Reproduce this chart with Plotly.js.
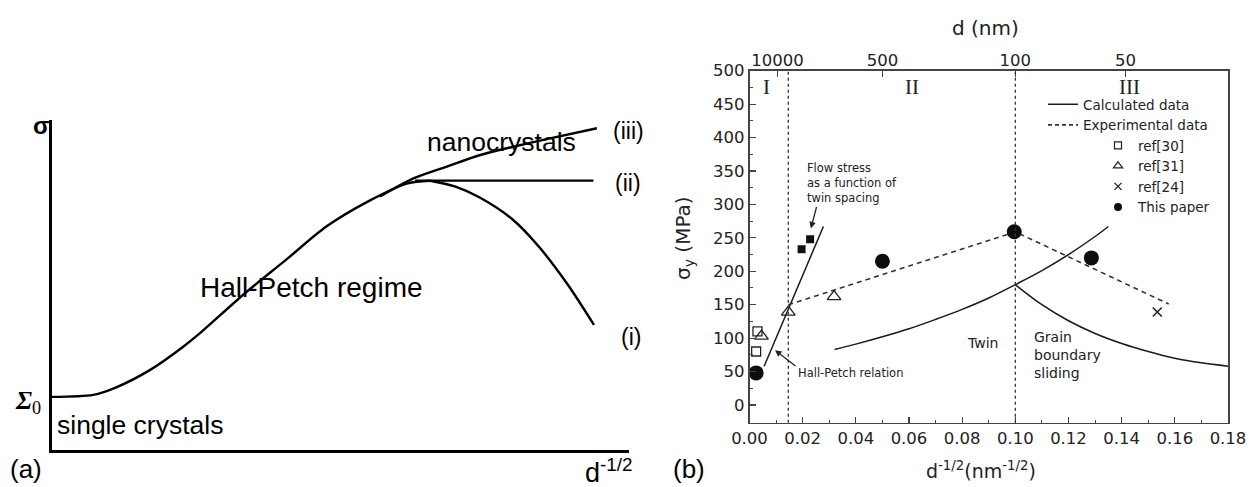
<!DOCTYPE html>
<html>
<head>
<meta charset="utf-8">
<script src="https://cdn.plot.ly/plotly-3.0.1.min.js"></script>
<style>
  html, body { margin: 0; padding: 0; background: #fff; }
  #chart { width: 1260px; height: 487px; }
</style>
</head>
<body>
<div id="chart"></div>
<script>
// ---------- (a) schematic: strength vs inverse square root of grain size ----------
const schemeX = [0, 0.072, 0.112, 0.17, 0.228, 0.257, 0.335, 0.406, 0.476, 0.547, 0.617, 0.656];
const schemeY = [0.161, 0.167, 0.19, 0.242, 0.313, 0.354, 0.475, 0.576, 0.677, 0.752, 0.808, 0.816];
const branchIX = [0.656, 0.70, 0.742, 0.80, 0.845, 0.895, 0.940];
const branchIY = [0.816, 0.798, 0.765, 0.697, 0.615, 0.5, 0.379];
const branchIIX = [0.63, 0.939];
const branchIIY = [0.816, 0.816];
const branchIIIX = [0.569, 0.627, 0.685, 0.743, 0.800, 0.858, 0.945];
const branchIIIY = [0.768, 0.823, 0.859, 0.894, 0.919, 0.942, 0.975];

// ---------- (b) yield stress of copper vs d^-1/2 ----------
// calculated curves
const hallPetchX = [0.0055, 0.0278];
const hallPetchY = [58, 267];
const twinX = [0.032, 0.04, 0.05, 0.06, 0.07, 0.08, 0.09, 0.10, 0.11, 0.12, 0.13, 0.135];
const twinY = [83, 91, 102, 114, 128, 143, 160, 180, 201, 225, 252, 267];
const gbsX = [0.10, 0.11, 0.12, 0.13, 0.14, 0.15, 0.16, 0.17, 0.18];
const gbsY = [180, 150, 126, 107, 92, 80, 70, 63, 58];
// experimental trend
const expX = [0.0146, 0.10, 0.1577];
const expY = [150, 259, 151];
// measured points
const ref30X = [0.0025, 0.003];
const ref30Y = [80, 110];
const ref31X = [0.0045, 0.0146, 0.0318];
const ref31Y = [103, 139, 162];
const ref24X = [0.1534];
const ref24Y = [139];
const paperX = [0.0025, 0.05, 0.0996, 0.1286];
const paperY = [48, 215, 259, 220];
const twinSpacingX = [0.0196, 0.0228];
const twinSpacingY = [233, 248];
// regime boundaries and top axis (grain size d in nm)
const regimeBounds = [0.0146, 0.10];
const topTickPos = [0.0105, 0.05, 0.10, 0.1414];
const topTickLabels = ['10000', '500', '100', '50'];

const SANS = 'Liberation Sans, Arial, sans-serif';
const DV = 'DejaVu Sans, Verdana, sans-serif';
const SERIF = 'Liberation Serif, Times New Roman, serif';
const W = 1260, H = 487;
const PX = x => x / W;
const PY = y => 1 - y / H;

const ink = '#1a1a1a';
const lineA = { color: '#000', width: 2.4, shape: 'spline', smoothing: 0.8 };

const traces = [
  // schematic (a)
  { x: schemeX, y: schemeY, xaxis: 'x2', yaxis: 'y2', mode: 'lines', line: lineA, showlegend: false, hoverinfo: 'skip' },
  { x: branchIX, y: branchIY, xaxis: 'x2', yaxis: 'y2', mode: 'lines', line: lineA, showlegend: false, hoverinfo: 'skip' },
  { x: branchIIX, y: branchIIY, xaxis: 'x2', yaxis: 'y2', mode: 'lines', line: { color: '#000', width: 2.2 }, showlegend: false, hoverinfo: 'skip' },
  { x: branchIIIX, y: branchIIIY, xaxis: 'x2', yaxis: 'y2', mode: 'lines', line: lineA, showlegend: false, hoverinfo: 'skip' },

  // (b) calculated curves
  { x: hallPetchX, y: hallPetchY, mode: 'lines', line: { color: ink, width: 1.5 }, showlegend: false },
  { x: twinX, y: twinY, mode: 'lines', line: { color: ink, width: 1.5, shape: 'spline' }, showlegend: false },
  { x: gbsX, y: gbsY, mode: 'lines', line: { color: ink, width: 1.5, shape: 'spline' }, showlegend: false },
  // (b) experimental trend
  { x: expX, y: expY, mode: 'lines', line: { color: '#333', width: 1.6, dash: '5px,4px' }, showlegend: false },
  // (b) data points
  { x: ref30X, y: ref30Y, mode: 'markers', showlegend: false,
    marker: { symbol: 'square-open', size: 9, color: '#222', line: { width: 1.3, color: '#222' } } },
  { x: ref31X, y: ref31Y, mode: 'markers', showlegend: false,
    marker: { symbol: 'triangle-up-open', size: 12, color: '#222', line: { width: 1.3, color: '#222' } } },
  { x: ref24X, y: ref24Y, mode: 'markers', showlegend: false,
    marker: { symbol: 'x-thin-open', size: 9, color: '#222', line: { width: 1.6, color: '#222' } } },
  { x: twinSpacingX, y: twinSpacingY, mode: 'markers', showlegend: false,
    marker: { symbol: 'square', size: 8, color: '#111' } },
  { x: paperX, y: paperY, mode: 'markers', showlegend: false,
    marker: { symbol: 'circle', size: 15, color: '#0d0d0d' } },

  // legend entries
  { x: [null], y: [null], mode: 'lines', name: 'Calculated data', legend: 'legend',
    line: { color: ink, width: 1.5 } },
  { x: [null], y: [null], mode: 'lines', name: 'Experimental data', legend: 'legend',
    line: { color: '#333', width: 1.6, dash: '4px,3px' } },
  { x: [null], y: [null], mode: 'markers', name: 'ref[30]', legend: 'legend2',
    marker: { symbol: 'square-open', size: 7, color: '#222', line: { width: 1.2, color: '#222' } } },
  { x: [null], y: [null], mode: 'markers', name: 'ref[31]', legend: 'legend2',
    marker: { symbol: 'triangle-up-open', size: 8, color: '#222', line: { width: 1.2, color: '#222' } } },
  { x: [null], y: [null], mode: 'markers', name: 'ref[24]', legend: 'legend2',
    marker: { symbol: 'x-thin-open', size: 7, color: '#222', line: { width: 1.4, color: '#222' } } },
  { x: [null], y: [null], mode: 'markers', name: 'This paper', legend: 'legend2',
    marker: { symbol: 'circle', size: 8, color: '#0d0d0d' } }
];

// text placed by its pixel centre (or left edge) on the page
const pageText = (x, y, text, size, extra) => Object.assign({
  xref: 'paper', yref: 'paper', x: PX(x), y: PY(y), text: text, showarrow: false,
  xanchor: 'center', yanchor: 'middle',
  font: { family: SANS, size: size, color: '#000' }
}, extra || {});

const annotations = [
  // panel (a)
  pageText(41, 126, '<b>σ</b>', 24),
  pageText(28, 402, '<b><i>Σ</i></b><sub>0</sub>', 26, { font: { family: SERIF, size: 26, color: '#000' } }),
  pageText(55, 425, 'single crystals', 26.5, { xanchor: 'left' }),
  pageText(198, 287, 'Hall-Petch regime', 28, { xanchor: 'left' }),
  pageText(425, 142, 'nanocrystals', 26.5, { xanchor: 'left' }),
  pageText(611, 131, '(iii)', 23, { xanchor: 'left' }),
  pageText(613, 183, '(ii)', 23, { xanchor: 'left' }),
  pageText(619, 337, '(i)', 23, { xanchor: 'left' }),
  pageText(26, 469, '(a)', 26),
  pageText(583, 471, 'd<sup>-1/2</sup>', 27, { xanchor: 'left' }),
  pageText(689, 469, '(b)', 26),

  // panel (b) titles
  pageText(684, 238, 'σ<sub>y</sub> (MPa)', 20, { textangle: -90, font: { family: DV, size: 20, color: '#222' } }),
  pageText(981, 470, 'd<sup>-1/2</sup>(nm<sup>-1/2</sup>)', 19, { font: { family: DV, size: 19, color: '#222' } }),
  pageText(985, 28, 'd (nm)', 20, { font: { family: DV, size: 20, color: '#222' } }),

  // regime labels
  { xref: 'x', yref: 'y', x: 0.0065, y: 476, text: 'I', showarrow: false, font: { family: SERIF, size: 21, color: '#222' } },
  { xref: 'x', yref: 'y', x: 0.061, y: 476, text: 'II', showarrow: false, font: { family: SERIF, size: 21, color: '#222' } },
  { xref: 'x', yref: 'y', x: 0.1428, y: 476, text: 'III', showarrow: false, font: { family: SERIF, size: 21, color: '#222' } },

  // mechanism notes
  { xref: 'x', yref: 'y', x: 0.0208, y: 368, xanchor: 'left', yanchor: 'top', align: 'left',
    text: 'Flow stress<br>as a function of<br>twin spacing', showarrow: false,
    font: { family: DV, size: 11.5, color: '#222' } },
  { xref: 'x', yref: 'y', x: 0.0231, y: 264, ax: 6, ay: -23, text: '', showarrow: true,
    arrowhead: 2, arrowsize: 1, arrowwidth: 1.3, arrowcolor: '#222' },
  { xref: 'x', yref: 'y', x: 0.0175, y: 48, xanchor: 'left', text: 'Hall-Petch relation', showarrow: false,
    font: { family: DV, size: 11.5, color: '#222' } },
  { xref: 'x', yref: 'y', x: 0.0096, y: 82, ax: 22, ay: 17, text: '', showarrow: true,
    arrowhead: 2, arrowsize: 1, arrowwidth: 1.3, arrowcolor: '#222' },
  { xref: 'x', yref: 'y', x: 0.0877, y: 92, text: 'Twin', showarrow: false,
    font: { family: DV, size: 14, color: '#222' } },
  { xref: 'x', yref: 'y', x: 0.1063, y: 117, xanchor: 'left', yanchor: 'top', align: 'left',
    text: 'Grain<br>boundary<br>sliding', showarrow: false, font: { family: DV, size: 14, color: '#222' } }
];

const shapes = regimeBounds.map(b => ({
  type: 'line', xref: 'x', yref: 'y domain', x0: b, x1: b, y0: 0, y1: 1,
  line: { color: '#333', width: 1.3, dash: 'dot' }
}));

const tickFontB = { family: DV, size: 16.5, color: '#222' };
const plainA = {
  range: [0, 1], showline: true, linecolor: '#000', linewidth: 3, showticklabels: false,
  ticks: '', showgrid: false, zeroline: false, fixedrange: true
};

const layout = {
  width: W, height: H,
  margin: { l: 0, r: 0, t: 0, b: 0 },
  paper_bgcolor: '#fff', plot_bgcolor: 'rgba(0,0,0,0)',
  showlegend: true,
  xaxis: {
    domain: [PX(749.5), PX(1228)], range: [0, 0.18], anchor: 'y',
    tick0: 0, dtick: 0.02, tickformat: '.2f',
    ticks: 'inside', ticklen: 6, tickwidth: 1.2, tickcolor: '#444',
    minor: { dtick: 0.01, ticks: 'inside', ticklen: 3, tickwidth: 1, tickcolor: '#444' },
    showline: true, linecolor: '#444', linewidth: 1.6, mirror: true,
    showgrid: false, zeroline: false, tickfont: tickFontB
  },
  yaxis: {
    domain: [PY(422.7), PY(70.7)], range: [-26.5, 500], anchor: 'x',
    tick0: 0, dtick: 50,
    ticks: 'inside', ticklen: 6, tickwidth: 1.2, tickcolor: '#444',
    minor: { dtick: 25, ticks: 'inside', ticklen: 3, tickwidth: 1, tickcolor: '#444' },
    showline: true, linecolor: '#444', linewidth: 1.6, mirror: true,
    showgrid: false, zeroline: false, tickfont: tickFontB
  },
  xaxis3: {
    overlaying: 'x', side: 'top', anchor: 'y', range: [0, 0.18],
    tickmode: 'array', tickvals: topTickPos, ticktext: topTickLabels,
    ticks: 'inside', ticklen: 6, tickwidth: 1.2, tickcolor: '#444',
    showline: false, showgrid: false, zeroline: false, tickfont: tickFontB
  },
  xaxis2: Object.assign({ domain: [PX(51.7), PX(628.6)], anchor: 'y2' }, plainA),
  yaxis2: Object.assign({ domain: [PY(450), PY(120)], anchor: 'x2' }, plainA),
  legend: {
    x: PX(1043), xanchor: 'left', y: PY(89), yanchor: 'top',
    bgcolor: 'rgba(0,0,0,0)', borderwidth: 0, itemwidth: 30, tracegroupgap: 0,
    font: { family: DV, size: 13.5, color: '#222' }
  },
  legend2: {
    x: PX(1098), xanchor: 'left', y: PY(130), yanchor: 'top',
    bgcolor: 'rgba(0,0,0,0)', borderwidth: 0, itemwidth: 30, tracegroupgap: 0,
    font: { family: DV, size: 13.5, color: '#222' }
  },
  annotations: annotations,
  shapes: shapes
};

// the top axis needs a trace to exist; reuse the experimental trend on it invisibly
traces.push({ x: expX, y: expY, xaxis: 'x3', yaxis: 'y', mode: 'lines', line: { width: 0 },
  showlegend: false, hoverinfo: 'skip', opacity: 0 });

Plotly.newPlot('chart', traces, layout, { displayModeBar: false, staticPlot: true });
</script>
</body>
</html>
